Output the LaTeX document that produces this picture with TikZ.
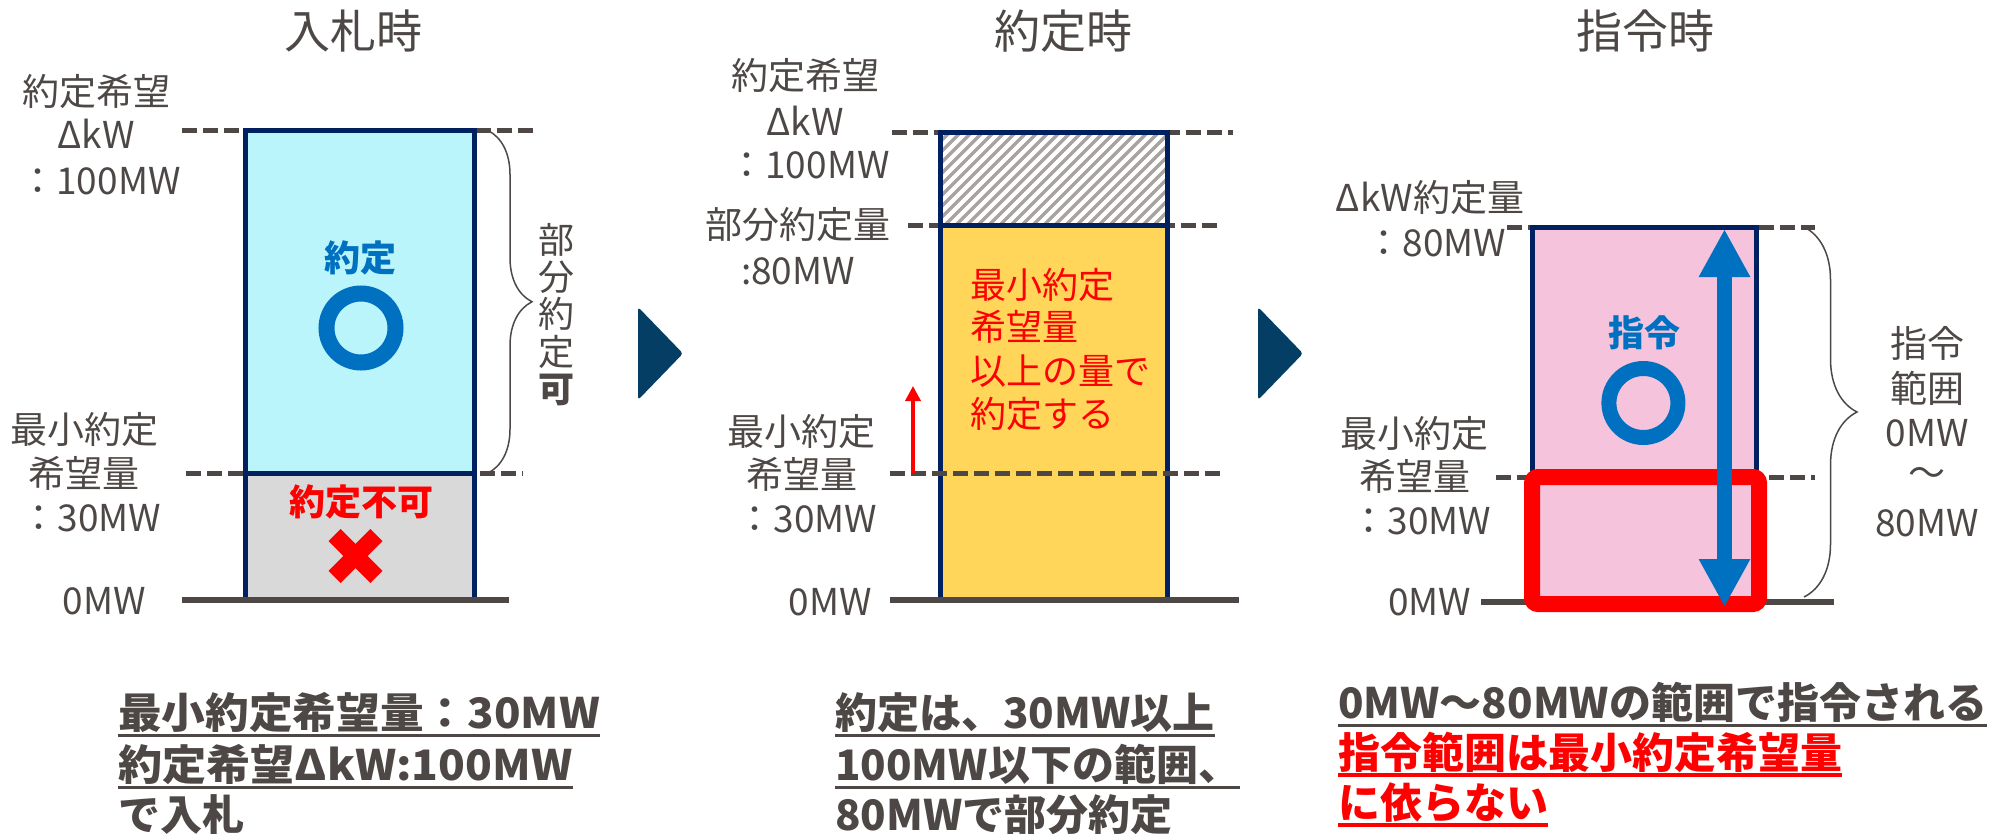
\documentclass[tikz,border=0pt]{standalone}
\usepackage{graphicx}
\usepackage{fontspec}
\setmainfont{Noto Sans CJK JP}
\usetikzlibrary{arrows.meta,decorations.pathreplacing}
\definecolor{txt}{HTML}{4D4845}
\definecolor{navy}{HTML}{002060}
\definecolor{cyanf}{HTML}{BAF5FC}
\definecolor{grayf}{HTML}{D9D9D9}
\definecolor{yellowf}{HTML}{FFD65A}
\definecolor{pinkf}{HTML}{F5C4DC}
\definecolor{blu}{HTML}{0070C0}
\definecolor{rd}{HTML}{FF0000}
\definecolor{chev}{HTML}{053E65}
\definecolor{hatchc}{HTML}{A8A2A0}
\tikzset{
  lbl/.style={text=txt, font=\fontsize{37}{44}\selectfont, inner sep=0pt},
  ttl/.style={text=txt, font=\fontsize{46}{55}\selectfont, inner sep=0pt},
  inbold/.style={font=\bfseries\fontsize{36}{43}\selectfont, inner sep=0pt},
  redtxt/.style={text=rd, font=\fontsize{36}{43}\selectfont, inner sep=0pt, anchor=west},
  dashln/.style={draw=txt, line width=5pt, dash pattern=on 15pt off 6pt},
  gnd/.style={draw=txt, line width=6pt},
  bar/.style={draw=navy, line width=5pt},
  brc/.style={draw=txt, line width=1.5pt, decorate},
  ring/.style={draw=blu, line width=16pt},
  bt/.style={text=txt, font=\bfseries\fontsize{42}{50}\selectfont, inner sep=0pt, anchor=base west},
  ul/.style={draw=txt, line width=3pt},
  ulr/.style={draw=rd, line width=3.5pt},
  chevron/.style={fill=chev, rounded corners=3pt},
}
\begin{document}
\begin{tikzpicture}[x=1pt,y=-1pt]
\useasboundingbox (0,0) rectangle (1997,833);

% ---------- titles
\node[ttl] (t1) at (353,31) {入札時};
\node[ttl] (t2) at (1063,31) {約定時};
\node[ttl] (t3) at (1645,31) {指令時};

% ---------- panel 1
\draw[dashln] (182,130.5) -- (533,130.5);
\draw[dashln] (186,473) -- (523,473);
\filldraw[fill=cyanf, bar] (245.5,130.5) rectangle (474,473);
\filldraw[fill=grayf, bar] (245.5,473) rectangle (474,600);
\draw[gnd] (182,600) -- (509,600);

\node[lbl] (p1a) at (96,91) {約定希望};
\node[lbl] (p1b) at (96,134) {ΔkW};
\node[lbl] (p1c) at (100,181) {：100MW};
\node[lbl] (p1d) at (84,430) {最小約定};
\node[lbl] (p1e) at (84,473) {希望量};
\node[lbl] (p1f) at (91,518) {：30MW};
\node[lbl] (p1g) at (104,601) {0MW};

\node[inbold, text=blu] (p1ok) at (360,258) {約定};
\draw[ring] (361,328) circle[radius=34.5pt];
\node[inbold, text=rd] (p1ng) at (361,502) {約定不可};
\draw[rd, line width=17pt] (355.5,556) ++(-20.9,-20.9) -- ++(41.8,41.8);
\draw[rd, line width=17pt] (355.5,556) ++(-20.9,20.9) -- ++(41.8,-41.8);

\draw[brc, decoration={brace, amplitude=44pt}] (488,130.5) -- (488,473);
\node[lbl, font=\fontsize{36}{43}\selectfont] (v1) at (556,240) {部};
\node[lbl, font=\fontsize{36}{43}\selectfont] (v2) at (556,277) {分};
\node[lbl, font=\fontsize{36}{43}\selectfont] (v3) at (556,314) {約};
\node[lbl, font=\fontsize{36}{43}\selectfont] (v4) at (556,352) {定};
\node[lbl, font=\bfseries\fontsize{36}{43}\selectfont] (v5) at (556,390) {可};

% ---------- chevrons
\fill[chevron] (638,307) -- (683,353.5) -- (638,400) -- cycle;
\fill[chevron] (1258,307) -- (1303,353.5) -- (1258,400) -- cycle;

% ---------- panel 2
\draw[dashln] (892,132) -- (1233,132);
\draw[dashln] (908,225.5) -- (1218,225.5);
\fill[white] (940.5,132) rectangle (1167.5,225.5);
\begin{scope}
  \clip (940.5,132) rectangle (1167.5,225.5);
  \foreach \i in {-10,...,24}
    \draw[hatchc, line width=3.5pt] (930+\i*11,240) -- ++(130,-130);
\end{scope}
\fill[yellowf] (940.5,225.5) rectangle (1167.5,600);
\draw[bar] (940.5,132) rectangle (1167.5,600);
\draw[bar] (940.5,225.5) -- (1167.5,225.5);
\draw[dashln] (890,473) -- (1221,473);
\draw[gnd] (890,600) -- (1239,600);
\draw[rd, line width=3.5pt, -{Triangle[width=15pt,length=15pt]}] (913,473) -- (913,386);

\node[lbl] (p2a) at (805,75) {約定希望};
\node[lbl] (p2b) at (805,121) {ΔkW};
\node[lbl] (p2c) at (809,165) {：100MW};
\node[lbl] (p2d) at (798,225) {部分約定量};
\node[lbl] (p2e) at (798,271) {:80MW};
\node[lbl] (p2f) at (801.5,431.5) {最小約定};
\node[lbl] (p2g) at (801.5,474) {希望量};
\node[lbl] (p2h) at (807,519) {：30MW};
\node[lbl] (p2i) at (830,602) {0MW};

\node[redtxt] (r1) at (970.5,285) {最小約定};
\node[redtxt] (r2) at (970.5,327) {希望量};
\node[redtxt] (r3) at (970.5,371) {以上の量で};
\node[redtxt] (r4) at (970.5,414) {約定する};

% ---------- panel 3
\draw[dashln] (1507,227) -- (1815,227);
\draw[dashln] (1496,477) -- (1815,477);
\filldraw[fill=pinkf, bar] (1532.5,227) rectangle (1756,602);
\draw[gnd] (1481,602) -- (1834,602);
\draw[rd, line width=16pt, rounded corners=6pt] (1532,477) rectangle (1759,604);
\node[inbold, text=blu] (p3ok) at (1644.7,333) {指令};
\draw[ring, line width=15pt] (1643.4,403) circle[radius=34.5pt];
\draw[blu, line width=15pt, {Triangle[width=48pt,length=48pt]}-{Triangle[width=48pt,length=48pt]}] (1724.5,229) -- (1724.5,607);

\draw[brc, decoration={brace, amplitude=53pt}] (1804,227) -- (1804,597);
\node[lbl] (p3r1) at (1927,343) {指令};
\node[lbl] (p3r2) at (1927,388) {範囲};
\node[lbl] (p3r3) at (1927,433) {0MW};
\node[lbl] (p3r4) at (1927,477) {～};
\node[lbl] (p3r5) at (1927,523) {80MW};

\node[lbl] (p3a) at (1430,198) {ΔkW約定量};
\node[lbl] (p3b) at (1436,243) {：80MW};
\node[lbl] (p3c) at (1414.6,433.5) {最小約定};
\node[lbl] (p3d) at (1414.6,476.5) {希望量};
\node[lbl] (p3e) at (1421,521.5) {：30MW};
\node[lbl] (p3f) at (1429.7,602) {0MW};

% ---------- bottom texts
\node[bt] (b1) at (118,728) {\scalebox{1.04}[1]{最小約定希望量：30MW}};
\node[bt] (b2) at (118,780) {\scalebox{1.05}[1]{約定希望ΔkW:100MW}};
\node[bt] (b3) at (118,830) {で入札};
\draw[ul] ([yshift=-7pt]b1.base west) -- ([yshift=-7pt]b1.base east);
\draw[ul] ([yshift=-7pt]b2.base west) -- ([yshift=-7pt]b2.base east);

\node[bt] (c1) at (835,728) {約定は、30MW以上};
\node[bt] (c2) at (835,780) {100MW以下の範囲、};
\node[bt] (c3) at (835,830) {80MWで部分約定};
\draw[ul] ([yshift=-7pt]c1.base west) -- ([yshift=-7pt]c1.base east);
\draw[ul] ([yshift=-7pt]c2.base west) -- ([yshift=-7pt]c2.base east);

\node[bt] (d1) at (1338,718) {0MW～80MWの範囲で指令される};
\node[bt, text=rd] (d2) at (1338,768) {指令範囲は最小約定希望量};
\node[bt, text=rd] (d3) at (1338,818) {に依らない};
\draw[ul] ([yshift=-7pt]d1.base west) -- ([yshift=-7pt]d1.base east);
\draw[ulr] ([yshift=-7pt]d2.base west) -- ([yshift=-7pt]d2.base east);
\draw[ulr] ([yshift=-7pt]d3.base west) -- ([yshift=-7pt]d3.base east);
\end{tikzpicture}
\end{document}
